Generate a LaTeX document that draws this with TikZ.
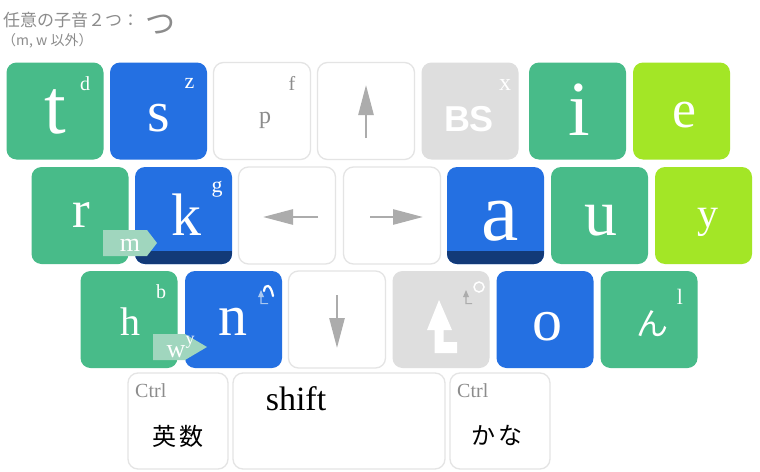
\documentclass[tikz,border=0pt]{standalone}
\usepackage{fontspec}
\setmainfont{Liberation Serif}
\newfontfamily\jpfont{Noto Sans CJK JP}
\newfontfamily\sansb{Liberation Sans}
\usetikzlibrary{arrows.meta}
\definecolor{kgreen}{RGB}{72,187,137}
\definecolor{kblue}{RGB}{36,112,226}
\definecolor{klime}{RGB}{163,230,38}
\definecolor{kgrey}{RGB}{222,222,222}
\definecolor{kborder}{RGB}{228,228,228}
\definecolor{kdark}{RGB}{18,58,120}
\definecolor{ktag}{RGB}{160,214,190}
\definecolor{karrow}{RGB}{172,172,172}
\definecolor{ktext}{RGB}{140,140,140}
\definecolor{kicon}{RGB}{170,200,240}
\begin{document}
\begin{tikzpicture}[x=1pt,y=-1pt,
  key/.style={rounded corners=10pt, minimum width=97pt, minimum height=97pt, inner sep=0pt},
  gk/.style={key, fill=kgreen},
  bk/.style={key, fill=kblue},
  lk/.style={key, fill=klime},
  grk/.style={key, fill=kgrey},
  wk/.style={key, fill=white, draw=kborder, line width=1.3pt},
  fs/.style={font=\fontsize{#1}{#1}\selectfont},
  lab/.style={inner sep=0pt, anchor=base, text=white},
  arr/.style={draw=karrow, line width=2.6pt, -{Triangle[length=30pt, width=15pt]}},
  tag/.style={fill=ktag},
  ctl/.style={inner sep=0pt, anchor=base west, text=ktext, fs=20},
  jp/.style={inner sep=0pt, text=black, font=\jpfont\fontsize{24}{24}\selectfont}
]
\useasboundingbox (0,0) rectangle (760,471);
\fill[white] (0,0) rectangle (760,471);

% title
\node[inner sep=0pt, anchor=base west, text=ktext, font=\jpfont\fontsize{17}{17}\selectfont] (title) at (3,27) {任意の子音２つ：};
\node[inner sep=0pt, text=ktext, font=\jpfont\fontsize{30}{30}\selectfont] (tsu) at (160,25) {つ};
\node[inner sep=0pt, anchor=base west, text=ktext, font=\jpfont\fontsize{14}{14}\selectfont] (sub) at (2,45) {（m, w 以外）};

% row 1
\node[gk] (kt) at (55,111) {};
\node[bk] (ks) at (158.5,111) {};
\node[wk] (kp) at (262,111) {};
\node[wk] (kup) at (366,111) {};
\node[grk] (kbs) at (470,111) {};
\node[gk] (ki) at (577.5,111) {};
\node[lk] (ke) at (681.5,111) {};

% row 2
\node[gk] (kr) at (80,215.5) {};
\node[bk] (kk) at (183.5,215.5) {};
\node[wk] (kleft) at (287,215.5) {};
\node[wk] (kright) at (392,215.5) {};
\node[bk] (ka) at (495.5,215.5) {};
\node[gk] (ku) at (599.5,215.5) {};
\node[lk] (ky) at (703.5,215.5) {};

% row 3
\node[gk] (kh) at (129,319.5) {};
\node[bk] (kn) at (233.5,319.5) {};
\node[wk] (kdown) at (337,319.5) {};
\node[grk] (kshift) at (441,319.5) {};
\node[bk] (ko) at (545,319.5) {};
\node[gk] (kN) at (649,319.5) {};

% row 4
\node[wk, minimum width=100pt, minimum height=96pt] (keisu) at (178,421) {};
\node[wk, minimum width=212pt, minimum height=96pt] (kspace) at (339,421) {};
\node[wk, minimum width=100pt, minimum height=96pt] (kkana) at (500,421) {};

% dark strips
\begin{scope}
\clip[rounded corners=10pt] (135,167) rectangle (232,264);
\fill[kdark] (135,251) rectangle (232,265);
\end{scope}
\begin{scope}
\clip[rounded corners=10pt] (447,167) rectangle (544,264);
\fill[kdark] (447,251) rectangle (544,265);
\end{scope}

% main letters
\node[lab, fs=78] (lt) at (55,133) {t};
\node[lab, fs=58] (ls) at (159,131) {s};
\node[lab, fs=24, text=ktext] (lp) at (265,123) {p};
\node[lab, font=\sansb\bfseries\fontsize{36}{36}\selectfont] (lbs) at (469,131) {BS};
\node[lab, fs=78] (li) at (579,135) {i};
\node[lab, fs=54] (le) at (684,127) {e};
\node[lab, fs=53] (lr) at (81,227) {r};
\node[lab, fs=60] (lk) at (186,235) {k};
\node[lab, fs=84] (la) at (500,240) {a};
\node[lab, fs=66] (lu) at (601,235) {u};
\node[lab, fs=42] (ly) at (708,227) {y};
\node[lab, fs=40] (lh) at (130,335) {h};
\node[lab, fs=58] (ln) at (233,335) {n};
\node[lab, fs=60] (lo) at (547,340) {o};
\node[inner sep=0pt, text=white, font=\jpfont\fontsize{32}{32}\selectfont] (lN) at (652,324) {ん};

% superscripts
\node[lab, fs=20] (sd) at (85,90) {d};
\node[lab, fs=22] (sz) at (189.5,88) {z};
\node[lab, fs=20, text=ktext] (sf) at (292,90) {f};
\node[lab, fs=24] (sx) at (505,90) {x};
\node[lab, fs=22] (sg) at (217,192) {g};
\node[lab, fs=20] (sb) at (161,298) {b};
\node[lab, fs=22] (sl) at (680,304) {l};

% arrow keys
\draw[arr] (366,138) -- (366,85);
\draw[arr] (318,217) -- (263,217);
\draw[arr] (370,217) -- (423,217);
\draw[arr] (337,295) -- (337,348);

% shift-up icon
\fill[white] (439,300) -- (452,330) -- (443.5,330) -- (443.5,342) -- (457,342) -- (457,353) -- (434.5,353) -- (434.5,330) -- (427,330) -- cycle;
\fill[karrow] (466,290) -- (469,297) -- (466.6,297) -- (466.6,303) -- (472,303) -- (472,304) -- (465.4,304) -- (465.4,297) -- (463,297) -- cycle;
\draw[white, line width=1.5pt] (479,287) circle[radius=5];

% n superscript icon
\fill[kicon] (261,290) -- (264,297) -- (261.6,297) -- (261.6,303) -- (268,303) -- (268,304) -- (260.4,304) -- (260.4,297) -- (258,297) -- cycle;
\draw[white, line width=2.2pt, line cap=round] (264,291) .. controls (265,283) and (271,284) .. (273,296);

% tags
\fill[tag] (103,230) -- (147,230) -- (157,243) -- (147,256) -- (103,256) -- cycle;
\node[lab, fs=26] (tm) at (130,251) {m};
\fill[tag] (153,334) -- (185,334) -- (207,347) -- (185,360) -- (153,360) -- cycle;
\node[lab, fs=26] (tw) at (176,357) {w};
\node[lab, fs=18] (ty) at (190,344) {y};

% bottom row labels
\node[ctl] (c1) at (135,397) {Ctrl};
\node[ctl] (c2) at (457,397) {Ctrl};
\node[jp] (eisu) at (178,436) {英\hspace{3pt}数};
\node[lab, fs=34, text=black] (lshift) at (296,410) {shift};
\node[jp] (kana) at (497,435) {か\hspace{3pt}な};
\end{tikzpicture}
\end{document}
